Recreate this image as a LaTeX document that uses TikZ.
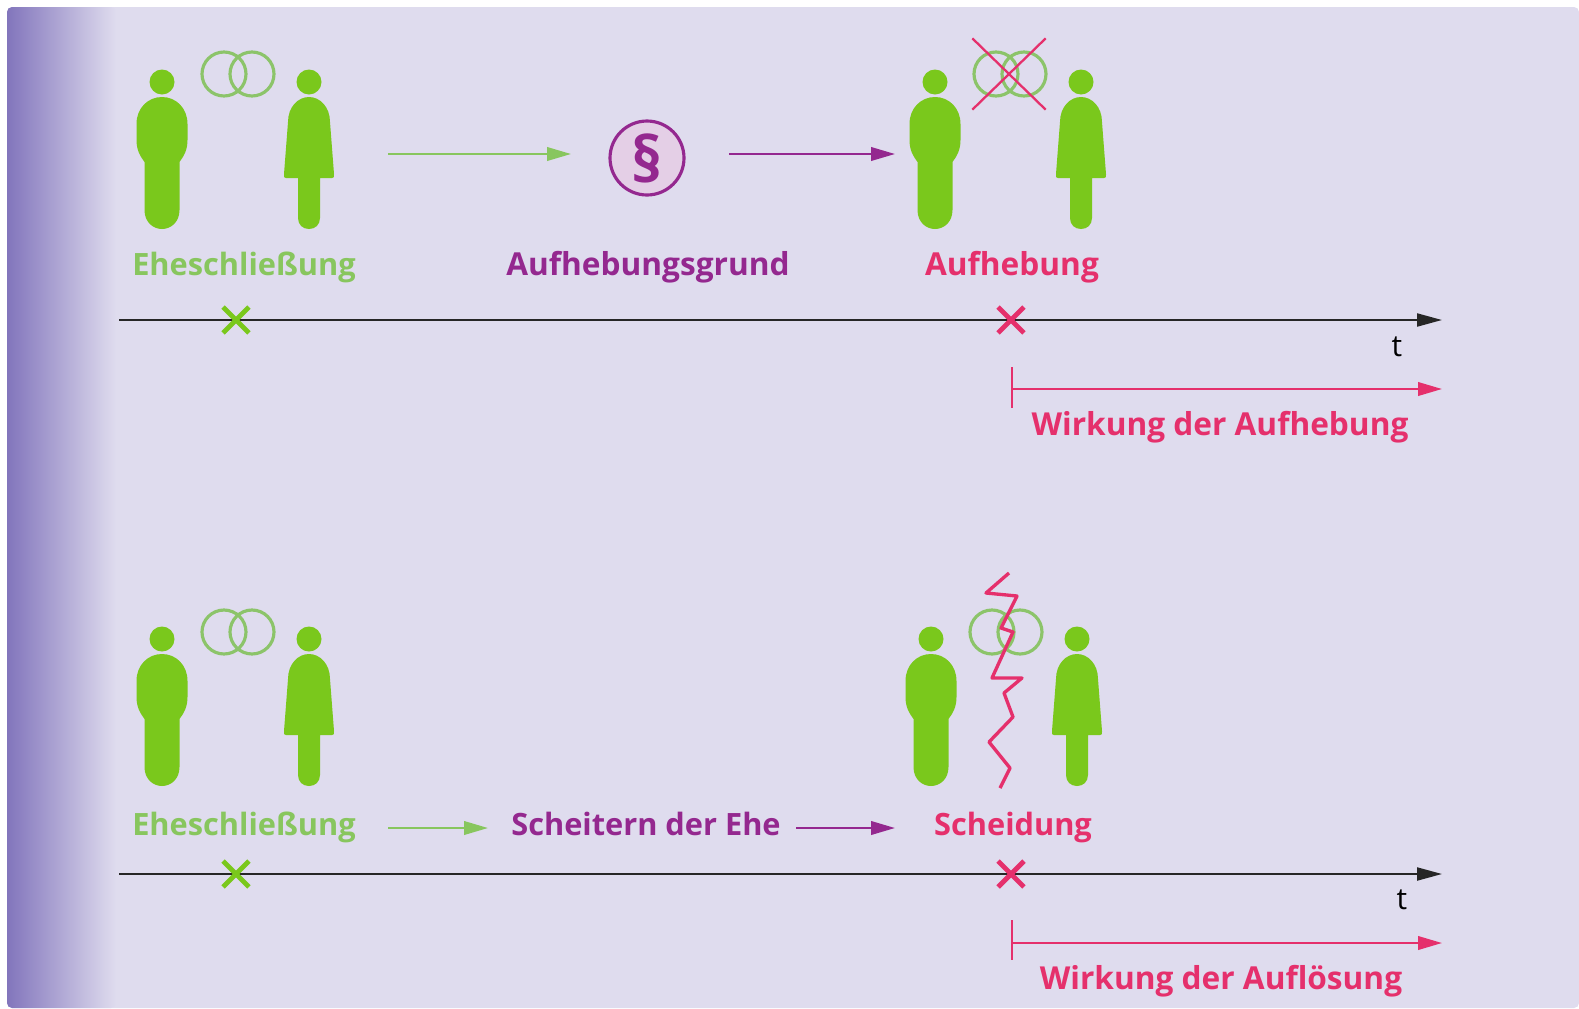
\documentclass[tikz,border=0pt]{standalone}
\usepackage{fontspec}
\setmainfont{Open Sans}
\usetikzlibrary{
    arrows.meta,
    shapes.misc
}
\definecolor{panelc}{HTML}{DFDCEE}
\definecolor{stripc}{HTML}{8275BC}
\definecolor{personc}{HTML}{7AC81C}
\definecolor{ringc}{HTML}{8CC46A}
\definecolor{labelgreen}{HTML}{88C65E}
\definecolor{lilac}{HTML}{94288F}
\definecolor{parafill}{HTML}{E4CFE6}
\definecolor{rosec}{HTML}{E5306C}
\tikzset{
    txt/.style={font=\bfseries\fontsize{18}{20}\selectfont, inner sep=0pt, anchor=base},
    txtsmall/.style={font=\bfseries\fontsize{17.5}{20}\selectfont, inner sep=0pt, anchor=base},
    thinarrow/.style={line width=1.3pt, -{Stealth[length=0.48cm, width=0.27cm, inset=0pt]}},
    axis/.style={line width=1.2pt, black!85, -{Stealth[length=0.5cm, width=0.26cm, inset=0pt]}},
    xmark/.style={cross out, draw, line width=2.8pt, minimum size=0.42cm, inner sep=0pt},
    ring/.style={draw=ringc, line width=1.8pt},
    manfig/.pic={
        \fill[personc] (0, 0) circle[radius=12.5];
        \fill[personc] (-17.5, 128) -- (-17.5, 80) .. controls (-22, 74) and (-25.5, 68) .. (-25.5, 58)
            -- (-25.5, 42) .. controls (-25.5, 26) and (-14, 15) .. (0, 15)
            .. controls (14, 15) and (25.5, 26) .. (25.5, 42) -- (25.5, 58)
            .. controls (25.5, 68) and (22, 74) .. (17.5, 80) -- (17.5, 128)
            .. controls (17.5, 140) and (9, 147) .. (0, 147)
            .. controls (-9, 147) and (-17.5, 140) .. (-17.5, 128) -- cycle;
    },
    womanfig/.pic={
        \fill[personc] (0, 0) circle[radius=12.5];
        \fill[personc] (-11, 136) -- (-11, 96) -- (-23, 96) .. controls (-25, 96) and (-25.5, 95) .. (-25, 92)
            -- (-21, 40) .. controls (-21, 25) and (-11, 15) .. (0, 15)
            .. controls (11, 15) and (21, 25) .. (21, 40) -- (25, 92)
            .. controls (25.5, 95) and (25, 96) .. (23, 96) -- (11, 96) -- (11, 136)
            .. controls (11, 143) and (6, 147) .. (0, 147)
            .. controls (-6, 147) and (-11, 143) .. (-11, 136) -- cycle;
    },
    ringsfig/.pic={
        \draw[ring] (-14, 0) circle[radius=22];
        \draw[ring] (14, 0) circle[radius=22];
    }
}

\begin{document}
\begin{tikzpicture}[x=0.02cm, y=-0.02cm]
    \useasboundingbox (0, 0) rectangle (1579, 1008);
    \fill[panelc, rounded corners=0.1cm] (7, 7) -- (1579, 7) -- (1579, 1008) -- (7, 1008) -- cycle;
    \shade[left color=stripc, right color=panelc, rounded corners=0.1cm] (7, 7) -- (116, 7) -- (116, 1008) -- (7, 1008) -- cycle;

    % upper row
    \pic at (162, 82) {manfig};
    \pic at (309, 82) {womanfig};
    \pic at (238, 74) {ringsfig};
    \pic at (935, 82) {manfig};
    \pic at (1081, 82) {womanfig};
    \pic at (1010, 74) {ringsfig};
    \node[cross out, draw=rosec, line width=1.3pt, minimum width=1.42cm, minimum height=1.38cm, inner sep=0pt] (crossrings) at (1009, 74) {};
    \node[draw=lilac, line width=1.8pt, circle, fill=parafill, minimum size=1.48cm, inner sep=0pt, text=lilac, font=\bfseries\fontsize{36}{36}\selectfont] (para) at (647, 158) {§};

    \coordinate (ga1) at (388, 154);
    \coordinate (ga2) at (571, 154);
    \coordinate (pa1) at (729, 154);
    \coordinate (pa2) at (895, 154);
    \draw[thinarrow, labelgreen] (ga1) -- (ga2);
    \draw[thinarrow, lilac] (pa1) -- (pa2);

    \node[txtsmall, labelgreen] (ehe1) at (244, 275) {Eheschließung};
    \node[txt, lilac] (grund) at (648, 275) {Aufhebungsgrund};
    \node[txt, rosec] (aufheb) at (1012, 275) {Aufhebung};

    \coordinate (ta1) at (119, 320);
    \coordinate (ta2) at (1442, 320);
    \draw[axis] (ta1) -- (ta2);
    \node[xmark, personc] (xa1) at (236, 320) {};
    \node[xmark, rosec] (xa2) at (1011, 320) {};
    \node[font=\fontsize{17}{20}\selectfont, inner sep=0pt] (ta) at (1397, 347) {t};

    \coordinate (wa1) at (1012, 389);
    \coordinate (wa2) at (1442, 389);
    \coordinate (wa3) at (1012, 367);
    \coordinate (wa4) at (1012, 408);
    \draw[rosec, line width=1.3pt] (wa3) -- (wa4);
    \draw[thinarrow, rosec] (wa1) -- (wa2);
    \node[txt, rosec] (wirka) at (1220, 435) {Wirkung der Aufhebung};

    % lower row
    \pic at (162, 639) {manfig};
    \pic at (309, 639) {womanfig};
    \pic at (238, 632) {ringsfig};
    \pic at (931, 639) {manfig};
    \pic at (1077, 639) {womanfig};
    \pic at (1006, 632) {ringsfig};
    \draw[rosec, line width=1.9pt, line join=round] (1009, 573) -- (986, 593) -- (1017, 596) -- (1001, 628)
        -- (1013, 632) -- (992, 678) -- (1022, 678) -- (1004, 693) -- (1013, 717)
        -- (989, 742) -- (1010, 768) -- (1000, 788);

    \coordinate (gb1) at (388, 828);
    \coordinate (gb2) at (488, 828);
    \coordinate (pb1) at (796, 828);
    \coordinate (pb2) at (895, 828);
    \draw[thinarrow, labelgreen] (gb1) -- (gb2);
    \draw[thinarrow, lilac] (pb1) -- (pb2);

    \node[txtsmall, labelgreen] (ehe2) at (244, 835) {Eheschließung};
    \node[txtsmall, lilac] (scheitern) at (646, 835) {Scheitern der Ehe};
    \node[txtsmall, rosec] (scheidung) at (1013, 835) {Scheidung};

    \coordinate (tb1) at (119, 874);
    \coordinate (tb2) at (1442, 874);
    \draw[axis] (tb1) -- (tb2);
    \node[xmark, personc] (xb1) at (236, 874) {};
    \node[xmark, rosec] (xb2) at (1011, 874) {};
    \node[font=\fontsize{17}{20}\selectfont, inner sep=0pt] (tb) at (1402, 900) {t};

    \coordinate (wb1) at (1012, 943);
    \coordinate (wb2) at (1442, 943);
    \coordinate (wb3) at (1012, 920);
    \coordinate (wb4) at (1012, 960);
    \draw[rosec, line width=1.3pt] (wb3) -- (wb4);
    \draw[thinarrow, rosec] (wb1) -- (wb2);
    \node[txt, rosec] (wirkb) at (1221, 989) {Wirkung der Auflösung};
\end{tikzpicture}
\end{document}
